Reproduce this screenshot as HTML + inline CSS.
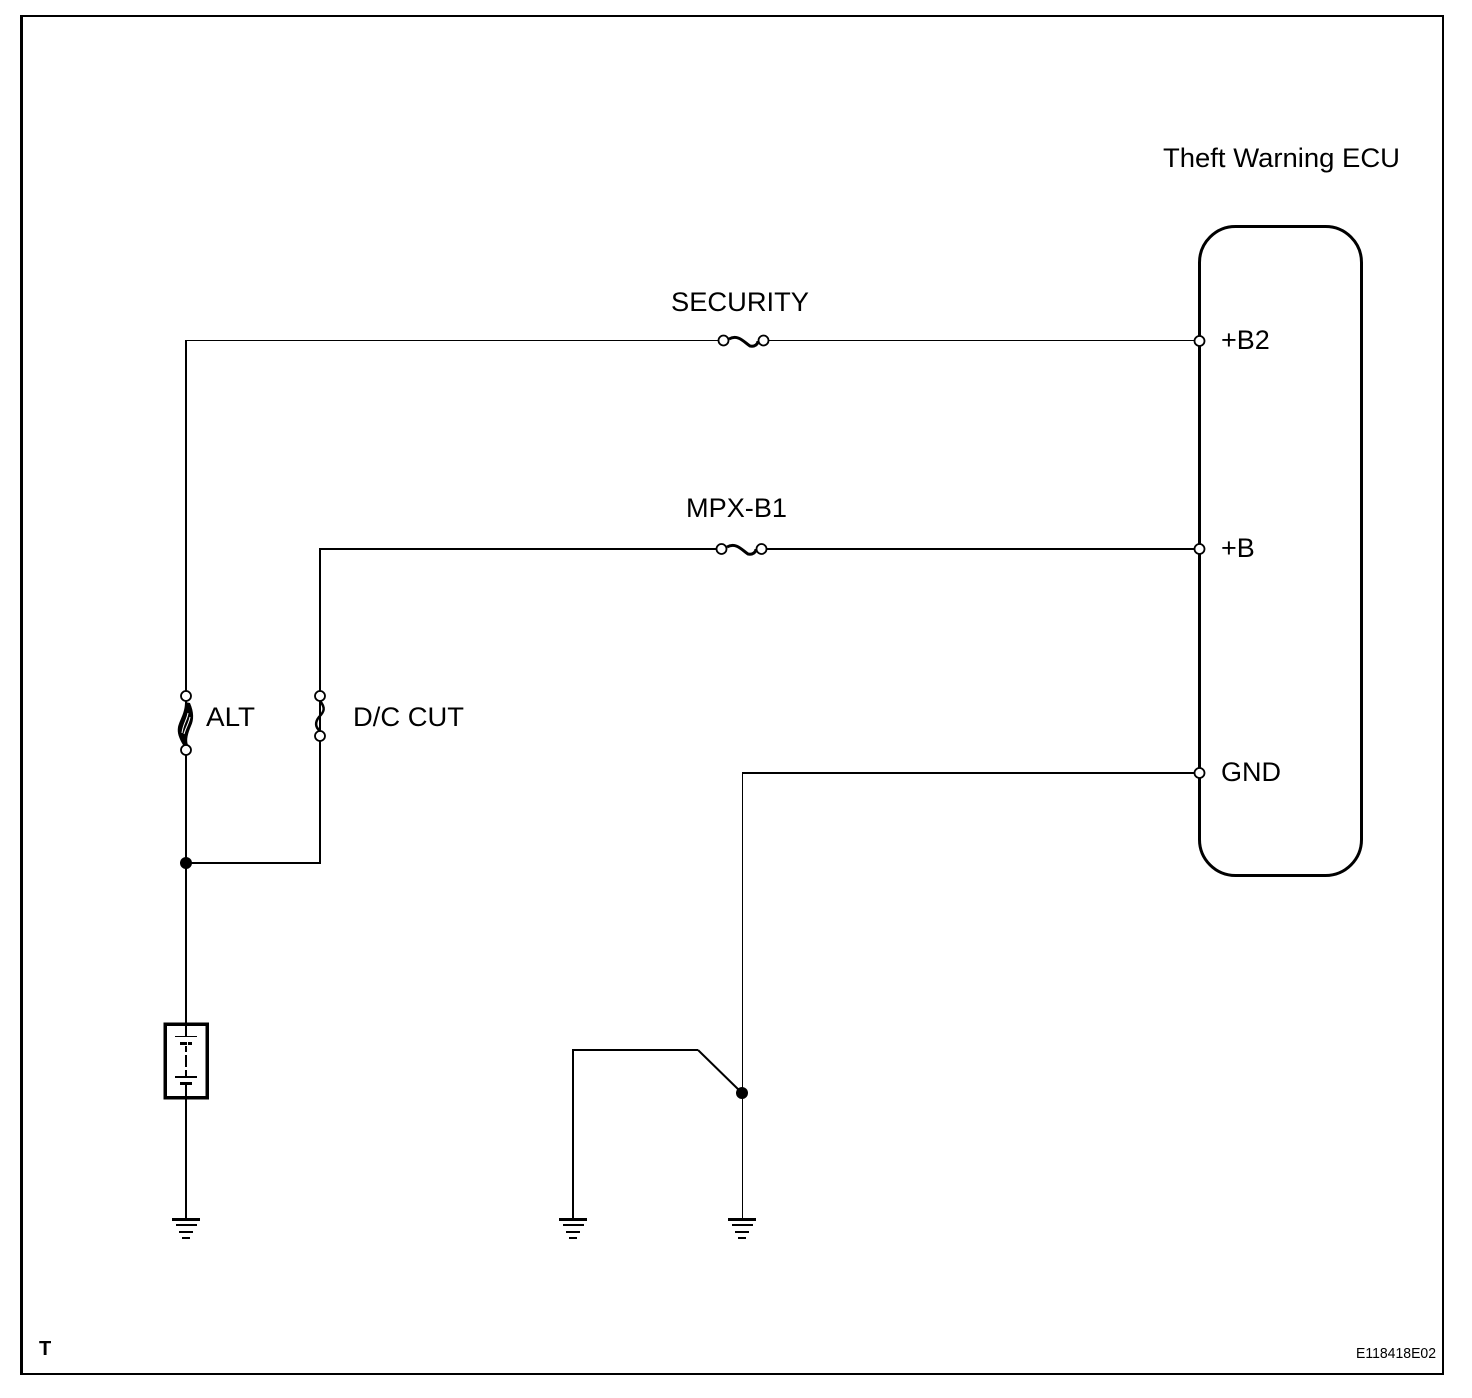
<!DOCTYPE html>
<html><head><meta charset="utf-8"><style>
html,body{margin:0;padding:0;background:#fff}
svg{display:block}
text{font-family:"Liberation Sans",sans-serif;font-size:27px;fill:#000}
</style></head><body>
<svg width="1472" height="1398" viewBox="0 0 1472 1398" xmlns="http://www.w3.org/2000/svg">
<rect width="1472" height="1398" fill="#fff"/>
<g fill="#000" shape-rendering="crispEdges">
<rect x="20" y="15" width="1424" height="2"/>
<rect x="20" y="1373" width="1424" height="2"/>
<rect x="20" y="15" width="3" height="1360"/>
<rect x="1442" y="15" width="2" height="1360"/>
<rect x="185" y="340" width="2" height="878"/>
<rect x="185" y="340" width="534" height="1"/>
<rect x="768" y="340" width="428" height="1"/>
<rect x="319" y="548" width="2" height="315"/>
<rect x="319" y="548" width="398" height="2"/>
<rect x="766" y="548" width="430" height="2"/>
<rect x="186" y="862" width="135" height="2"/>
<rect x="742" y="772" width="454" height="2"/>
<rect x="742" y="772" width="1" height="446"/>
<rect x="572" y="1049" width="2" height="169"/>
<rect x="572" y="1049" width="126" height="2"/>
</g>
<g fill="none" stroke="#000">
<rect x="1199.500" y="226.500" width="162" height="649" rx="36" ry="36" stroke-width="3"/>
<path d="M698 1050L742 1093" stroke-width="2"/>
<path d="M729 339C738 334 744 342 750 346C755 347 758 344 758 341" stroke-width="3"/>
<path d="M727 547C736 542 742 550 748 554C753 555 756 552 756 549" stroke-width="3"/>
<path d="M320 701C326 708 324 712 319 717C315 722 315 727 320 731" stroke-width="2.500"/>
<rect x="165" y="1024" width="42" height="73.500" stroke-width="3.500" fill="#fff" shape-rendering="crispEdges"/>
<path d="M186 1024V1036" stroke-width="2" shape-rendering="crispEdges"/>
</g>
<path d="M185 702L190 703C194 712 194 720 191 726C188 733 186 740 188 745L183 745C179 738 177 733 178 727C180 719 185 713 185 702Z" fill="#000"/>
<path d="M188 713C187 720 183 724 182 733M190 717C189 723 186 727 184 734" fill="none" stroke="#fff" stroke-width="1"/>
<g shape-rendering="crispEdges" fill="#000">
<rect x="175" y="1036" width="22" height="1"/>
<rect x="180" y="1042" width="7" height="3"/><rect x="188" y="1042" width="4" height="3"/>
<rect x="185" y="1046" width="2" height="6"/><rect x="185" y="1055" width="2" height="12"/><rect x="185" y="1070" width="2" height="6"/>
<rect x="175" y="1076" width="22" height="2"/>
<rect x="180" y="1082" width="12" height="3"/>
<rect x="185" y="1085" width="2" height="14"/>
<rect x="172" y="1218" width="28" height="3"/><rect x="176" y="1224" width="21" height="2"/><rect x="179" y="1231" width="14" height="2"/><rect x="182" y="1237" width="8" height="2"/>
<rect x="559" y="1218" width="28" height="3"/><rect x="563" y="1224" width="21" height="2"/><rect x="566" y="1231" width="14" height="2"/><rect x="569" y="1237" width="8" height="2"/>
<rect x="728" y="1218" width="28" height="3"/><rect x="732" y="1224" width="21" height="2"/><rect x="735" y="1231" width="14" height="2"/><rect x="738" y="1237" width="8" height="2"/>
</g>
<g fill="#fff" stroke="#000" stroke-width="1.800">
<circle cx="723.500" cy="340.500" r="5"/><circle cx="763.500" cy="340.500" r="5"/>
<circle cx="721.500" cy="549" r="5"/><circle cx="761.500" cy="549" r="5"/>
<circle cx="1199.500" cy="341" r="5"/><circle cx="1199.500" cy="549" r="5"/><circle cx="1199.500" cy="773" r="5"/>
<circle cx="186" cy="696" r="5"/><circle cx="186" cy="750" r="5"/>
<circle cx="320" cy="696" r="5"/><circle cx="320" cy="736" r="5"/>
</g>
<circle cx="186" cy="863" r="6" fill="#000"/>
<circle cx="742" cy="1093" r="6" fill="#000"/>
<text x="1163" y="167" textLength="237" lengthAdjust="spacingAndGlyphs">Theft Warning ECU</text>
<text x="671" y="311" textLength="138" lengthAdjust="spacingAndGlyphs">SECURITY</text>
<text x="686" y="517" textLength="101" lengthAdjust="spacingAndGlyphs">MPX-B1</text>
<text x="1221" y="349">+B2</text>
<text x="1221" y="557">+B</text>
<text x="1221" y="781" textLength="60" lengthAdjust="spacingAndGlyphs">GND</text>
<text x="206" y="726" textLength="49" lengthAdjust="spacingAndGlyphs">ALT</text>
<text x="353" y="726" textLength="111" lengthAdjust="spacingAndGlyphs">D/C CUT</text>
<text x="39" y="1355" style="font-size:20px;font-weight:bold">T</text>
<text x="1356" y="1358" textLength="80" lengthAdjust="spacingAndGlyphs" style="font-size:14.500px">E118418E02</text>
</svg>
</body></html>
